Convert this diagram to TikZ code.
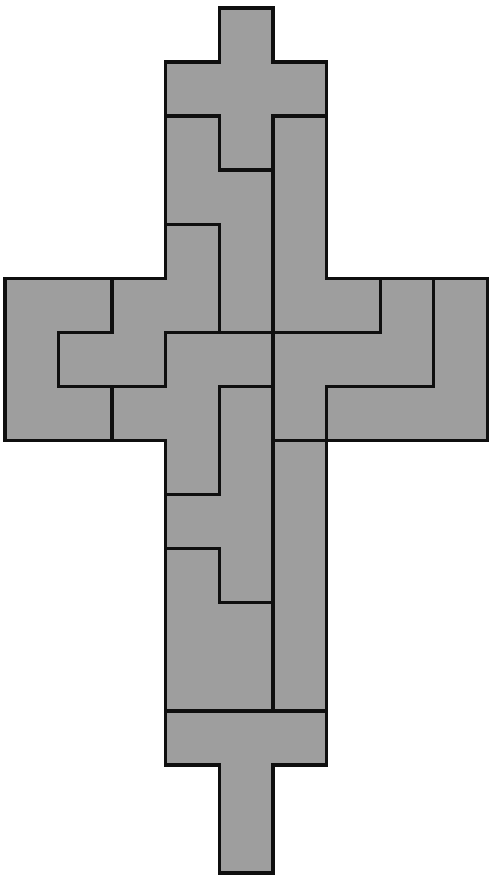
\documentclass[tikz,border=0pt]{standalone}
\usepackage{xcolor}
\definecolor{tile}{RGB}{158,158,158}
\definecolor{edge}{RGB}{15, 15, 15}
\usepackage{tikz}
\tikzset{
  piece/.style={draw=edge, fill=tile, line width=1.8pt, line join=miter},
  frame/.style={draw=none, fill=white}
}

\begin{document}
\begin{tikzpicture}[x=1cm, y=-1.0086cm]

  \path[frame] (-0.093,-0.148) rectangle (9.019,16.148);
  \useasboundingbox (-0.093,-0.148) rectangle (9.019,16.148);

  \draw[piece] (4,0) -- (5,0) -- (5,1) -- (6,1) -- (6,2) -- (5,2) -- (5,3)
    -- (4,3) -- (4,2) -- (3,2) -- (3,1) -- (4,1) -- cycle;
  \draw[piece] (3,2) -- (4,2) -- (4,3) -- (5,3) -- (5,6) -- (4,6) -- (4,4)
    -- (3,4) -- cycle;
  \draw[piece] (5,2) -- (6,2) -- (6,5) -- (7,5) -- (7,6) -- (5,6) -- cycle;
  \draw[piece] (8,5) -- (9,5) -- (9,8) -- (6,8) -- (6,7) -- (8,7) -- cycle;
  \draw[piece] (7,5) -- (8,5) -- (8,7) -- (6,7) -- (6,8) -- (5,8) -- (5,6)
    -- (7,6) -- cycle;
  \draw[piece] (0,5) -- (2,5) -- (2,6) -- (1,6) -- (1,7) -- (2,7) -- (2,8)
    -- (0,8) -- cycle;
  \draw[piece] (3,4) -- (4,4) -- (4,6) -- (3,6) -- (3,7) -- (1,7) -- (1,6)
    -- (2,6) -- (2,5) -- (3,5) -- cycle;
  \draw[piece] (3,6) -- (5,6) -- (5,7) -- (4,7) -- (4,9) -- (3,9) -- (3,8)
    -- (2,8) -- (2,7) -- (3,7) -- cycle;
  \draw[piece] (4,7) -- (5,7) -- (5,11) -- (4,11) -- (4,10) -- (3,10)
    -- (3,9) -- (4,9) -- cycle;
  \draw[piece] (3,10) -- (4,10) -- (4,11) -- (5,11) -- (5,13) -- (3,13) -- cycle;
  \draw[piece] (5,8) -- (6,8) -- (6,13) -- (5,13) -- cycle;
  \draw[piece] (3,13) -- (6,13) -- (6,14) -- (5,14) -- (5,16) -- (4,16)
    -- (4,14) -- (3,14) -- cycle;

\end{tikzpicture}
\end{document}
